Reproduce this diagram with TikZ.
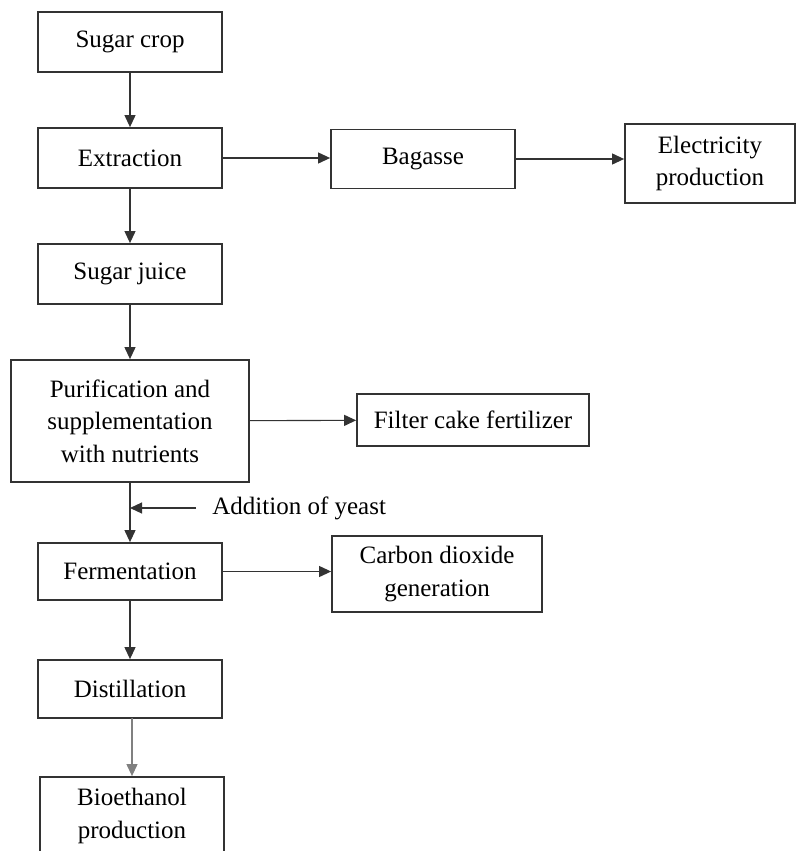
\documentclass[tikz,border=0pt]{standalone}
\usepackage{fontspec}
\setmainfont{Liberation Serif}
\usepackage{tikz}
\usetikzlibrary{arrows.meta,positioning}

\begin{document}
\begin{tikzpicture}[
    x=0.5pt, y=-0.5pt,
    stage/.style={draw=black!80, line width=0.9pt, minimum width=92pt, minimum height=30pt, inner sep=2pt, align=center, font=\fontsize{12.5}{16.3}\selectfont},
    arr/.style={-{Triangle[length=6pt, width=5.5pt]}, draw=black!80, line width=0.55pt}
]
\useasboundingbox (0,0) rectangle (808,851);

\node[stage] (crop) at (130,42) {Sugar crop};
\node[stage] (extr) at (130,158) {Extraction};
\node[stage] (juice) at (130,274) {Sugar juice};
\node[stage, minimum width=119pt, minimum height=61pt] (puri) at (130,421) {Purification and\\supplementation\\with nutrients};
\node[stage, minimum height=28.5pt] (ferm) at (130,571.5) {Fermentation};
\node[stage, minimum height=29pt] (dist) at (130,689) {Distillation};
\node[stage, minimum height=39pt] (bio) at (132,816) {Bioethanol\\production};

\node[stage, minimum height=29.5pt] (bag) at (423,159) {Bagasse};
\node[stage, minimum width=85pt, minimum height=39.5pt] (elec) at (710,163.5) {Electricity\\production};
\node[stage, minimum width=116pt, minimum height=26pt] (filt) at (473,420) {Filter cake fertilizer};
\node[stage, minimum width=105pt, minimum height=38pt] (co2) at (437,574) {Carbon dioxide\\generation};

\coordinate (yst) at (196,508);
\node[right=8pt of yst, inner sep=0pt, font=\fontsize{12.5}{16.3}\selectfont] (yeast) {Addition of yeast};

\draw[arr] (crop) -- (extr);
\draw[arr] (extr) -- (juice);
\draw[arr] (juice) -- (puri);
\draw[arr] (puri) -- (ferm);
\draw[arr] (ferm) -- (dist);
\draw[arr, draw=black!50] (dist) -- (dist.south -| bio.north) -- (bio);
\draw[arr] (extr.east) -- (extr.east -| bag.west);
\draw[arr] (bag.east) -- (bag.east -| elec.west);
\draw[arr] (puri) -- (filt);
\draw[arr] (ferm.east) -- (ferm.east -| co2.west);
\draw[arr] (yst) -- (yst -| puri);
\end{tikzpicture}
\end{document}
